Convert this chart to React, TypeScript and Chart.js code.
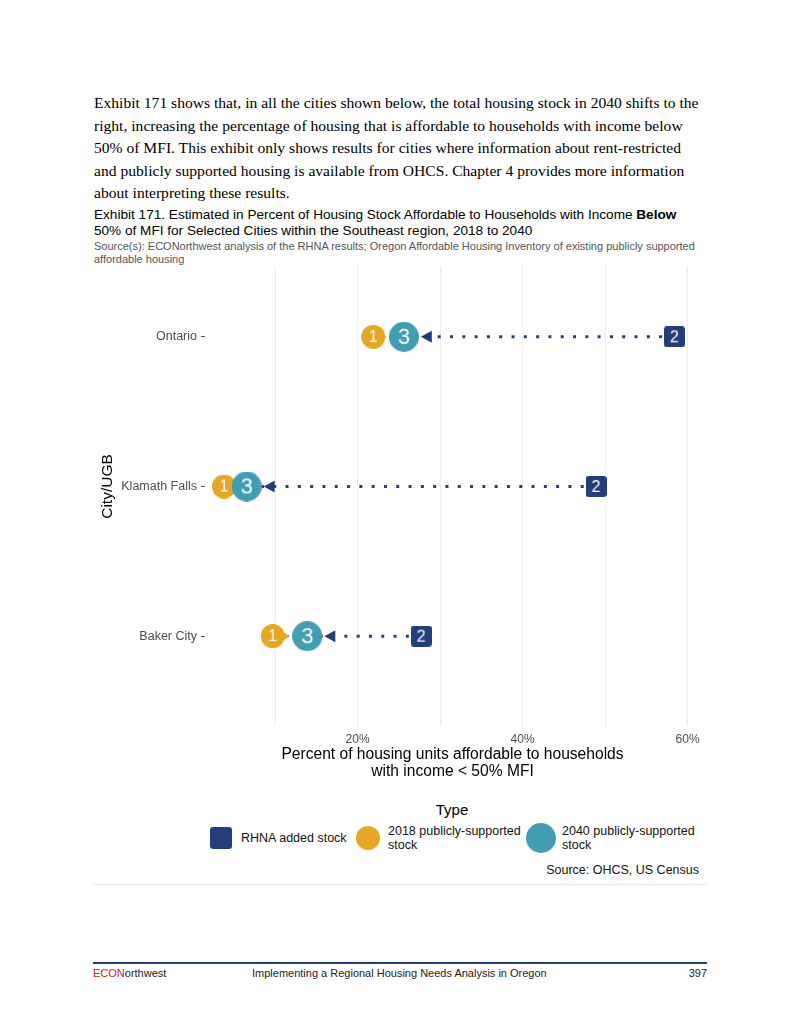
import React, { useEffect, useRef } from 'react';
import { Chart, registerables } from 'chart.js';

Chart.register(...registerables);

// ---------- data ----------
const cities = ['Ontario', 'Klamath Falls', 'Baker City'];
const stock2018 = [21.9, 3.8, 9.7]; // marker "1"
const rhnaAdded = [58.4, 48.9, 27.7]; // marker "2"
const stock2040 = [25.6, 6.55, 13.9]; // marker "3"
const xTickValues = [10, 20, 30, 40, 50, 60];
const xTickLabels = ['', '20%', '', '40%', '', '60%'];
const seriesNames = ['RHNA added stock', '2018 publicly-supported stock', '2040 publicly-supported stock'];

const NAVY = '#243E7B';
const ORANGE = '#E5A724';
const TEAL = '#429DB3';
const SANS = '"Liberation Sans", Arial, sans-serif';
const NARROW = '"Liberation Sans Narrow", "Liberation Sans", Arial, sans-serif';

const yPos = cities.map((_, i) => cities.length - i);

function makeMarker(shape: 'circle' | 'box', size: number, color: string, label: string, fontSize: number) {
  const c = document.createElement('canvas');
  c.width = size;
  c.height = size;
  const ctx = c.getContext('2d')!;
  ctx.fillStyle = color;
  ctx.beginPath();
  if (shape === 'circle') {
    ctx.arc(size / 2, size / 2, size / 2, 0, Math.PI * 2);
  } else {
    const r = 3;
    ctx.moveTo(r, 0);
    ctx.lineTo(size - r, 0);
    ctx.quadraticCurveTo(size, 0, size, r);
    ctx.lineTo(size, size - r);
    ctx.quadraticCurveTo(size, size, size - r, size);
    ctx.lineTo(r, size);
    ctx.quadraticCurveTo(0, size, 0, size - r);
    ctx.lineTo(0, r);
    ctx.quadraticCurveTo(0, 0, r, 0);
  }
  ctx.fill();
  ctx.fillStyle = '#ffffff';
  ctx.font = `${fontSize}px ${NARROW}`;
  ctx.textAlign = 'center';
  ctx.textBaseline = 'middle';
  ctx.fillText(label, size / 2, size / 2 + 1);
  return c;
}

const arrowPlugin = {
  id: 'arrowHeads',
  beforeDatasetsDraw(chart: any) {
    const { ctx, scales } = chart;
    const x = scales.x;
    const y = scales.y;
    ctx.save();
    cities.forEach((_, i) => {
      const py = y.getPixelForValue(yPos[i]);
      const p1 = x.getPixelForValue(stock2018[i]);
      const p3 = x.getPixelForValue(stock2040[i]);
      const tip = p3 - 17;
      if (tip > p1) {
        ctx.strokeStyle = ORANGE;
        ctx.lineWidth = 2;
        ctx.beginPath();
        ctx.moveTo(p1, py);
        ctx.lineTo(tip - 8, py);
        ctx.stroke();
        ctx.fillStyle = ORANGE;
        ctx.beginPath();
        ctx.moveTo(tip, py);
        ctx.lineTo(tip - 11, py - 6);
        ctx.lineTo(tip - 11, py + 6);
        ctx.closePath();
        ctx.fill();
      }
    });
    ctx.restore();
  },
  afterDatasetDraw(chart: any, args: any) {
    if (args.index !== cities.length - 1) return;
    const { ctx, scales } = chart;
    const x = scales.x;
    const y = scales.y;
    ctx.save();
    cities.forEach((_, i) => {
      const py = y.getPixelForValue(yPos[i]);
      const p3 = x.getPixelForValue(stock2040[i]);
      const tip = p3 + 17;
      ctx.fillStyle = NAVY;
      ctx.beginPath();
      ctx.moveTo(tip, py);
      ctx.lineTo(tip + 11, py - 6);
      ctx.lineTo(tip + 11, py + 6);
      ctx.closePath();
      ctx.fill();
    });
    ctx.restore();
  },
};

function DumbbellChart() {
  const ref = useRef<HTMLCanvasElement | null>(null);
  useEffect(() => {
    if (!ref.current) return;
    const m1 = makeMarker('circle', 24, ORANGE, '1', 16);
    const m2 = makeMarker('box', 21, NAVY, '2', 16);
    const m3 = makeMarker('circle', 30, TEAL, '3', 22);

    const lineSets = cities.map((c, i) => ({
      type: 'line' as const,
      label: 'arrow ' + c,
      data: [
        { x: rhnaAdded[i], y: yPos[i] },
        { x: stock2040[i], y: yPos[i] },
      ],
      borderColor: NAVY,
      borderWidth: 3,
      borderDash: [3, 9.3],
      borderCapStyle: 'butt' as const,
      pointRadius: 0,
      fill: false,
      order: 10,
    }));

    const chart = new Chart(ref.current, {
      type: 'scatter',
      data: {
        datasets: [
          ...lineSets,
          {
            type: 'scatter',
            label: seriesNames[1],
            data: cities.map((_, i) => ({ x: stock2018[i], y: yPos[i] })),
            pointStyle: m1 as any,
            order: 3,
          },
          {
            type: 'scatter',
            label: seriesNames[0],
            data: cities.map((_, i) => ({ x: rhnaAdded[i], y: yPos[i] })),
            pointStyle: m2 as any,
            order: 2,
          },
          {
            type: 'scatter',
            label: seriesNames[2],
            data: cities.map((_, i) => ({ x: stock2040[i], y: yPos[i] })),
            pointStyle: m3 as any,
            order: 1,
          },
        ] as any,
      },
      options: {
        animation: false,
        responsive: false,
        devicePixelRatio: 1,
        layout: { padding: { top: 4, right: 10, left: 0, bottom: 0 } },
        plugins: {
          legend: { display: false },
          tooltip: { enabled: false },
        },
        scales: {
          x: {
            type: 'linear',
            min: 1.5,
            max: 61.5,
            afterBuildTicks: (s: any) => {
              s.ticks = xTickValues.map((v) => ({ value: v }));
            },
            afterFit: (s: any) => {
              s.height = 54;
              s.paddingLeft = 0;
              s.paddingRight = 0;
            },
            ticks: {
              callback: (_v: any, i: number) => xTickLabels[i],
              color: '#4D4D4D',
              font: { size: 12, family: SANS },
              padding: 6,
              maxRotation: 0,
              autoSkip: false,
            },
            grid: { color: '#EBEBEB', lineWidth: 1, drawTicks: false },
            border: { display: false },
            title: {
              display: true,
              text: ['Percent of housing units affordable to households', 'with income < 50% MFI'],
              color: '#000',
              font: { size: 15.6, family: SANS, lineHeight: 1.1 },
              padding: { top: 0, bottom: 0 },
            },
          },
          y: {
            type: 'linear',
            min: 0.4,
            max: 3.6,
            afterBuildTicks: (s: any) => {
              s.ticks = yPos.map((v) => ({ value: v }));
            },
            afterFit: (s: any) => {
              s.width = 115;
              s.paddingTop = 0;
              s.paddingBottom = 0;
            },
            ticks: {
              callback: (v: any) => cities[cities.length - Number(v)],
              color: '#4D4D4D',
              font: { size: 12.5, family: SANS },
              padding: 4,
              autoSkip: false,
            },
            grid: {
              display: true,
              drawOnChartArea: false,
              drawTicks: true,
              tickLength: 4,
              tickColor: '#4D4D4D',
              color: '#4D4D4D',
            },
            border: { display: false },
            title: {
              display: true,
              text: 'City/UGB',
              color: '#000',
              font: { size: 15.5, family: SANS, lineHeight: 1.2 },
              padding: { top: 8, bottom: 0 },
            },
          },
        },
      } as any,
      plugins: [arrowPlugin],
    });
    return () => chart.destroy();
  }, []);
  return (
    <canvas
      ref={ref}
      width={620}
      height={538}
      style={{ position: 'absolute', left: 90, top: 242, width: 620, height: 538 }}
    />
  );
}

const abs = (o: React.CSSProperties): React.CSSProperties => ({ position: 'absolute', whiteSpace: 'nowrap', ...o });

export default function App() {
  return (
    <div style={{ position: 'absolute', left: 0, top: 0, width: 800, height: 1035, background: '#fff', overflow: 'hidden', color: '#000' }}>
      <div style={abs({ left: 94, top: 92, fontFamily: '"Liberation Serif", serif', fontSize: 15.6, lineHeight: '22.5px' })}>
        Exhibit 171 shows that, in all the cities shown below, the total housing stock in 2040 shifts to the
        <br />
        right, increasing the percentage of housing that is affordable to households with income below
        <br />
        50% of MFI. This exhibit only shows results for cities where information about rent-restricted
        <br />
        and publicly supported housing is available from OHCS. Chapter 4 provides more information
        <br />
        about interpreting these results.
      </div>

      <DumbbellChart />

      {/* exhibit header box (covers the top of the plot panel) */}
      <div style={abs({ left: 88, top: 203, width: 626, height: 63, background: '#fff' })} />
      <div style={abs({ left: 94, top: 207, fontFamily: SANS, fontSize: 13.6, lineHeight: '16px' })}>
        Exhibit 171. Estimated in Percent of Housing Stock Affordable to Households with Income <b>Below</b>
        <br />
        50% of MFI for Selected Cities within the Southeast region, 2018 to 2040
      </div>
      <div style={abs({ left: 94, top: 240, fontFamily: SANS, fontSize: 11, lineHeight: '13px', color: '#555' })}>
        Source(s): ECONorthwest analysis of the RHNA results; Oregon Affordable Housing Inventory of existing publicly supported
        <br />
        affordable housing
      </div>

      {/* legend */}
      <div style={abs({ left: 352, top: 801, width: 200, textAlign: 'center', fontFamily: SANS, fontSize: 15, lineHeight: '18px' })}>Type</div>
      <div style={abs({ left: 210, top: 827, width: 22, height: 22, borderRadius: 3, background: NAVY })} />
      <div style={abs({ left: 241, top: 830, fontFamily: SANS, fontSize: 12.5, lineHeight: '16px', color: '#111' })}>{seriesNames[0]}</div>
      <div style={abs({ left: 356, top: 826, width: 24, height: 24, borderRadius: 12, background: ORANGE })} />
      <div style={abs({ left: 388, top: 824, fontFamily: SANS, fontSize: 12.5, lineHeight: '14px', color: '#111' })}>
        2018 publicly-supported
        <br />
        stock
      </div>
      <div style={abs({ left: 526, top: 823, width: 30, height: 30, borderRadius: 15, background: TEAL })} />
      <div style={abs({ left: 562, top: 824, fontFamily: SANS, fontSize: 12.5, lineHeight: '14px', color: '#111' })}>
        2040 publicly-supported
        <br />
        stock
      </div>
      <div style={abs({ right: 101, top: 862, fontFamily: SANS, fontSize: 12.5, lineHeight: '16px', color: '#111' })}>Source: OHCS, US Census</div>
      <div style={abs({ left: 93, top: 884, width: 614, height: 1, background: '#E6E6E6' })} />

      {/* footer */}
      <div style={abs({ left: 93, top: 962, width: 614, height: 2, background: NAVY })} />
      <div style={abs({ left: 93, top: 966, fontFamily: SANS, fontSize: 11, lineHeight: '14px', color: '#222' })}>
        <span style={{ color: '#C0272D' }}>ECON</span>orthwest
      </div>
      <div style={abs({ left: 252, top: 966, fontFamily: SANS, fontSize: 11, lineHeight: '14px', color: '#222' })}>
        Implementing a Regional Housing Needs Analysis in Oregon
      </div>
      <div style={abs({ right: 93, top: 966, fontFamily: SANS, fontSize: 11, lineHeight: '14px', color: '#222' })}>397</div>
    </div>
  );
}
